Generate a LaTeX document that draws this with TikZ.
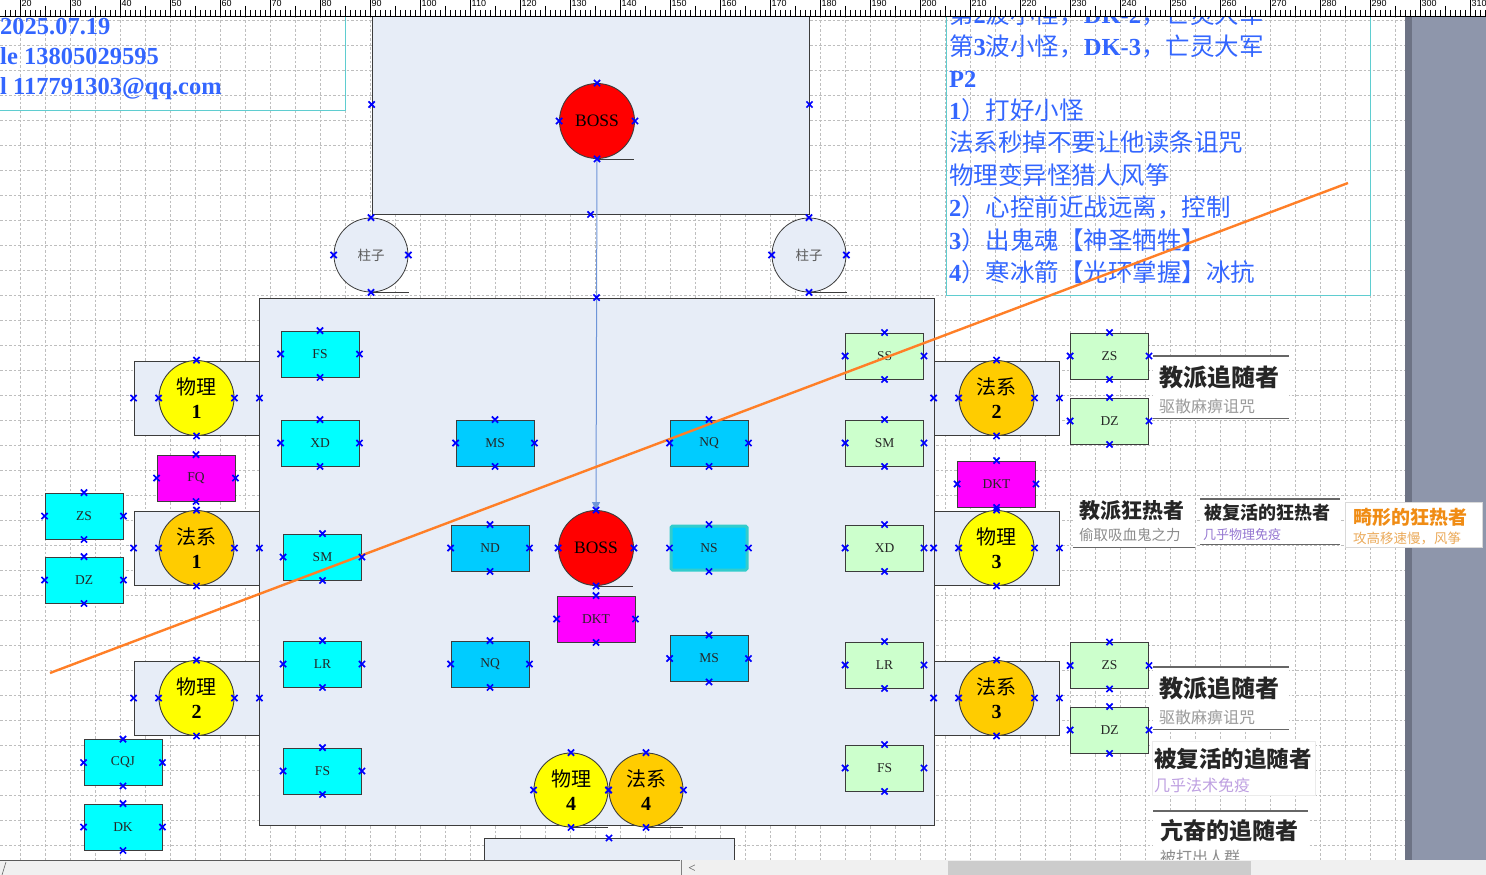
\documentclass[tikz,border=0pt]{standalone}
\usepackage{fontspec}
\setmainfont{Liberation Serif}
\setsansfont{Liberation Sans}
\newfontfamily\cjk{Noto Sans CJK SC}
\usetikzlibrary{arrows.meta,shapes.misc}
\newcommand\zh[1]{{\cjk #1}}
\definecolor{textblue}{RGB}{51,102,255}
\definecolor{cyanA}{RGB}{0,255,255}
\definecolor{skyA}{RGB}{0,204,255}
\definecolor{greenA}{RGB}{204,255,204}
\definecolor{magA}{RGB}{255,0,255}
\definecolor{yelA}{RGB}{255,255,0}
\definecolor{oraA}{RGB}{255,204,0}
\definecolor{redA}{RGB}{255,0,0}
\definecolor{room}{RGB}{231,237,247}
\definecolor{bord}{RGB}{60,60,60}
\definecolor{connblue}{RGB}{110,149,216}
\definecolor{orangeL}{RGB}{255,127,39}
\definecolor{gridc}{RGB}{190,190,190}
\definecolor{tboxc}{RGB}{95,205,208}
\definecolor{pagegray}{RGB}{142,150,171}
\definecolor{pagedark}{RGB}{109,115,133}
\definecolor{nsteal}{RGB}{51,204,204}
\definecolor{purp}{RGB}{150,120,210}
\definecolor{lpurp}{RGB}{190,160,225}
\definecolor{tipora}{RGB}{240,140,20}
\definecolor{tiplora}{RGB}{235,170,90}
\tikzset{
  gridl/.style={draw=gridc, line width=0.7pt, dash pattern=on 2.5pt off 2pt},
  box/.style={draw=bord, line width=0.9pt, minimum width=78pt, minimum height=46pt, inner sep=0pt, font=\fontsize{13.5}{14}\selectfont, text=black!85},
  cy/.style={box, fill=cyanA},
  sky/.style={box, fill=skyA},
  gr/.style={box, fill=greenA},
  mg/.style={box, fill=magA},
  circ/.style={circle, draw=bord, line width=0.9pt, minimum size=75pt, inner sep=0pt, align=center, font=\fontsize{20}{24}\selectfont},
  grp/.style={draw=bord, line width=0.9pt, fill=room, minimum width=125pt, minimum height=74pt, inner sep=0pt},
  pil/.style={circle, draw=bord, line width=0.8pt, fill=room, minimum size=74pt, inner sep=0pt, font=\fontsize{13.5}{14}\selectfont, text=black!65},
  uline/.style={draw=bord, line width=0.9pt},
  cp/.style={cross out, draw=blue, line width=1.7pt, minimum size=4.5pt, inner sep=0pt},
  tline/.style={anchor=base west, inner sep=0pt, text=textblue, font=\fontsize{24.5}{26}\selectfont},
  lline/.style={anchor=base west, inner sep=0pt, text=textblue, font=\fontsize{24.5}{26}\selectfont\bfseries},
  tboxl/.style={draw=tboxc, line width=1pt},
  tipbg/.style={fill=white, inner sep=0pt},
  tipline/.style={draw=black!60, line width=1.6pt},
  tiptitle/.style={anchor=west, inner sep=0pt, font=\cjk\bfseries},
  tipsub/.style={anchor=west, inner sep=0pt, font=\cjk},
  rtick/.style={draw=black, line width=0.6pt},
  rlab/.style={anchor=north west, inner sep=0pt, font=\sffamily\fontsize{9}{9}\selectfont}
}
\begin{document}
\begin{tikzpicture}[x=1pt,y=-1pt]
\useasboundingbox (0,0) rectangle (1486,875);
\clip (0,0) rectangle (1486,875);
\fill[white] (0,0) rectangle (1486,875);
% grid
\foreach \i in {0,...,55} \draw[gridl] ({20.5+25*\i},16) -- ({20.5+25*\i},860);
\foreach \j in {0,...,33} \draw[gridl] (0,{20+25*\j}) -- (1405,{20+25*\j});
% page outside
\fill[pagegray] (1405,16) rectangle (1486,860);
\fill[pagedark] (1405,16) rectangle (1412,860);
% text boxes
\draw[tboxl] (0,110) -- (345,110) -- (345,0);
\draw[tboxl] (946,0) -- (946,295) -- (1370,295) -- (1370,0);
\node[lline] (d1) at (0,35) {2025.07.19};
\node[lline] (d2) at (0,64) {le 13805029595};
\node[lline] (d3) at (0,94) {l 117791303@qq.com};
\node[tline] (n1) at (949,24) {\zh{第}\textbf{2}\zh{波小怪，}\textbf{DK-2}\zh{，亡灵大军}};
\node[tline] (n2) at (949,56) {\zh{第}\textbf{3}\zh{波小怪，}\textbf{DK-3}\zh{，亡灵大军}};
\node[tline] (n3) at (949,88) {\textbf{P2}};
\node[tline] (n4) at (949,119) {\textbf{1}\zh{）打好小怪}};
\node[tline] (n5) at (949,151) {\zh{法系秒掉不要让他读条诅咒}};
\node[tline] (n6) at (949,184) {\zh{物理变异怪猎人风筝}};
\node[tline] (n7) at (949,216) {\textbf{2}\zh{）心控前近战远离，控制}};
\node[tline] (n8) at (949,249) {\textbf{3}\zh{）出鬼魂【神圣牺牲】}};
\node[tline] (n9) at (949,281) {\textbf{4}\zh{）寒冰箭【光环掌握】冰抗}};
% boss room
\node[draw=bord, line width=0.9pt, fill=room, minimum width=437pt, minimum height=219pt, inner sep=0pt] (broom) at (590.5,104.5) {};
\node[circ, fill=redA, font=\fontsize{17.5}{18}\selectfont] (boss1) at (597,121) {BOSS};
\draw[uline] (boss1.south) -- ++(37,0);
% pillars
\node[pil] (p1) at (371,255) {\zh{柱子}};
\node[pil] (p2) at (809,255) {\zh{柱子}};
\draw[uline] (p1.south) -- ++(38,0);
\draw[uline] (p2.south) -- ++(38,0);
% main room
\node[draw=bord, line width=0.9pt, fill=room, minimum width=675pt, minimum height=527pt, inner sep=0pt] (mroom) at (596.5,561.5) {};
\node[draw=bord, line width=0.9pt, fill=room, minimum width=250pt, minimum height=60pt, inner sep=0pt, anchor=north] (lroom) at (609,838) {};
% groups
\node[grp] (g1) at (196.5,398) {};
\node[grp] (g2) at (196.5,548) {};
\node[grp] (g3) at (196.5,698) {};
\node[grp] (g4) at (996.5,398) {};
\node[grp] (g5) at (996.5,548) {};
\node[grp] (g6) at (996.5,698) {};
\node[circ, fill=yelA] (c1) at (196.5,398) {\zh{物理}\\\textbf{1}};
\node[circ, fill=oraA] (c2) at (196.5,548) {\zh{法系}\\\textbf{1}};
\node[circ, fill=yelA] (c3) at (196.5,698) {\zh{物理}\\\textbf{2}};
\node[circ, fill=oraA] (c4) at (996.5,398) {\zh{法系}\\\textbf{2}};
\node[circ, fill=yelA] (c5) at (996.5,548) {\zh{物理}\\\textbf{3}};
\node[circ, fill=oraA] (c6) at (996.5,698) {\zh{法系}\\\textbf{3}};
\node[circ, fill=yelA, minimum size=74pt] (c7) at (571,790) {\zh{物理}\\\textbf{4}};
\node[circ, fill=oraA, minimum size=74pt] (c8) at (646,790) {\zh{法系}\\\textbf{4}};
\draw[uline] (c7.south) -- ++(37,0);
\draw[uline] (c8.south) -- ++(37,0);
% left outside
\node[mg] (fq) at (196,478) {FQ};
\node[cy] (lzs) at (84,516) {ZS};
\node[cy] (ldz) at (84,580) {DZ};
\node[cy] (cqj) at (123,762.5) {CQJ};
\node[cy] (dk) at (123,827) {DK};
% room left column
\node[cy] (fs1) at (320,354) {FS};
\node[cy] (xd1) at (320,443) {XD};
\node[cy] (sm1) at (322.5,557) {SM};
\node[cy] (lr1) at (322.5,664) {LR};
\node[cy] (fs2) at (322.5,771) {FS};
% middle
\node[sky] (ms1) at (495,443) {MS};
\node[sky] (nd) at (490,548) {ND};
\node[sky] (nq1) at (490,664) {NQ};
\node[circ, fill=redA, font=\fontsize{17.5}{18}\selectfont] (boss2) at (596,548) {BOSS};
\draw[uline] (boss2.south) -- ++(37,0);
\node[mg] (dkt1) at (596,619) {DKT};
\node[sky] (nq2) at (709,443) {NQ};
\node[sky, draw=nsteal, line width=3pt, rounded corners=1.5pt, minimum width=76pt, minimum height=44pt] (ns) at (709,548) {NS};
\node[sky] (ms2) at (709,658.5) {MS};
% room right column
\node[gr] (ss) at (884.5,356) {SS};
\node[gr] (sm2) at (884.5,443) {SM};
\node[gr] (xd2) at (884.5,548) {XD};
\node[gr] (lr2) at (884.5,665) {LR};
\node[gr] (fs3) at (884.5,768) {FS};
% right outside
\node[mg] (dkt2) at (996.5,484) {DKT};
\node[gr] (rzs1) at (1109.5,356) {ZS};
\node[gr] (rdz1) at (1109.5,421) {DZ};
\node[gr] (rzs2) at (1109.5,665.5) {ZS};
\node[gr] (rdz2) at (1109.5,730) {DZ};
% tooltips
\node[tipbg, minimum width=136pt, minimum height=62pt, anchor=north west] (tip1) at (1153,356) {};
\draw[tipline] (tip1.north west) -- (tip1.north east);
\draw[tipline] (tip1.south west) -- (tip1.south east);
\node[tiptitle, font=\cjk\bfseries\fontsize{24}{26}\selectfont, text=black!85] (t1a) at (1159,377) {教派追随者};
\node[tipsub, font=\cjk\fontsize{16}{18}\selectfont, text=black!40] (t1b) at (1159,406) {驱散麻痹诅咒};
\node[tipbg, minimum width=136pt, minimum height=62pt, anchor=north west] (tip2) at (1153,667) {};
\draw[tipline] (tip2.north west) -- (tip2.north east);
\draw[tipline] (tip2.south west) -- (tip2.south east);
\node[tiptitle, font=\cjk\bfseries\fontsize{24}{26}\selectfont, text=black!85] (t2a) at (1159,688) {教派追随者};
\node[tipsub, font=\cjk\fontsize{16}{18}\selectfont, text=black!40] (t2b) at (1159,717) {驱散麻痹诅咒};
\node[tipbg, minimum width=122pt, minimum height=50pt, anchor=north west] (tip3) at (1073,497) {};
\draw[tipline] (tip3.south west) -- (tip3.south east);
\node[tiptitle, font=\cjk\bfseries\fontsize{21}{23}\selectfont, text=black!85] (t3a) at (1079,511) {教派狂热者};
\node[tipsub, font=\cjk\fontsize{14.5}{16}\selectfont, text=black!45] (t3b) at (1079,535) {偷取吸血鬼之力};
\node[tipbg, minimum width=140pt, minimum height=45pt, anchor=north west] (tip4) at (1200,499) {};
\draw[tipline] (tip4.north west) -- (tip4.north east);
\draw[tipline, line width=1pt] (tip4.south west) -- (tip4.south east);
\node[tiptitle, font=\cjk\bfseries\fontsize{18}{20}\selectfont, text=black!85] (t4a) at (1204,513) {被复活的狂热者};
\node[tipsub, font=\cjk\fontsize{13}{15}\selectfont, text=purp] (t4b) at (1203,535) {几乎物理免疫};
\node[tipbg, draw=black!15, minimum width=137pt, minimum height=45pt, anchor=north west] (tip5) at (1345,502) {};
\node[tiptitle, font=\cjk\bfseries\fontsize{19}{21}\selectfont, text=tipora] (t5a) at (1353,517) {畸形的狂热者};
\node[tipsub, font=\cjk\fontsize{13.5}{15}\selectfont, text=tiplora] (t5b) at (1353,538) {攻高移速慢，风筝};
\node[tipbg, draw=black!8, minimum width=163pt, minimum height=54pt, anchor=north west] (tip6) at (1152,741) {};
\node[tiptitle, font=\cjk\bfseries\fontsize{22.5}{24}\selectfont, text=black!85] (t6a) at (1154,759) {被复活的追随者};
\node[tipsub, font=\cjk\fontsize{16}{18}\selectfont, text=lpurp] (t6b) at (1154,785) {几乎法术免疫};
\node[tipbg, minimum width=155pt, minimum height=60pt, anchor=north west] (tip7) at (1153,811) {};
\draw[tipline] (tip7.north west) -- (tip7.north east);
\node[tiptitle, font=\cjk\bfseries\fontsize{23}{25}\selectfont, text=black!85] (t7a) at (1160,831) {亢奋的追随者};
\node[tipsub, font=\cjk\fontsize{16}{18}\selectfont, text=black!45] (t7b) at (1160,857) {被打出人群};
% connector
\draw[connblue, line width=1pt, -{Triangle[width=8pt,length=8pt]}] (boss1.south) -- (boss2.north);
% orange line
\coordinate (o1) at (50,673);
\coordinate (o2) at (1348,183);
\draw[orangeL, line width=2.4pt] (o1) -- (o2);
% connection points
\foreach \n in {fq,lzs,ldz,cqj,dk,fs1,xd1,sm1,lr1,fs2,ms1,nd,nq1,dkt1,nq2,ns,ms2,ss,sm2,xd2,lr2,fs3,dkt2,rzs1,rdz1,rzs2,rdz2,c1,c2,c3,c4,c5,c6,c7,c8,boss1,boss2,p1,p2}
  \foreach \a in {north,south,east,west} \node[cp] at (\n.\a) {};
\foreach \n in {g1,g2,g3,g4,g5,g6}
  \foreach \a in {east,west} \node[cp] at (\n.\a) {};
\foreach \a in {west,east,south} \node[cp] at (broom.\a) {};
\node[cp] at (mroom.north) {};
\node[cp] at (lroom.north) {};
% ruler
\fill[white] (0,0) rectangle (1486,16);
\foreach \i in {1,...,297} \draw[rtick] ({5*\i},10) -- ({5*\i},16);
\foreach \i in {0,...,58} \draw[rtick] ({20+25*\i},6) -- ({20+25*\i},16);
\foreach \i in {0,...,29} {
  \draw[rtick] ({20+50*\i},0) -- ({20+50*\i},16);
  \node[rlab] (r\i) at ({21.5+50*\i},0) {\the\numexpr 20+10*\i\relax};
}
\draw[black, line width=0.8pt] (0,16) -- (1486,16);
% bottom bar
\fill[black!6] (0,860) rectangle (1486,875);
\fill[black!20] (948,861) rectangle (1251,875);
\draw[black!65, line width=1.5pt] (0,860.5) -- (680,860.5);
\draw[black!50, line width=0.8pt] (681,860) -- (681,875);
\draw[black!60, line width=0.6pt] (2,875) -- (6,862);
\node[inner sep=0pt, font=\fontsize{13}{13}\selectfont, text=black!70] (lt) at (692,869) {<};
\end{tikzpicture}
\end{document}
